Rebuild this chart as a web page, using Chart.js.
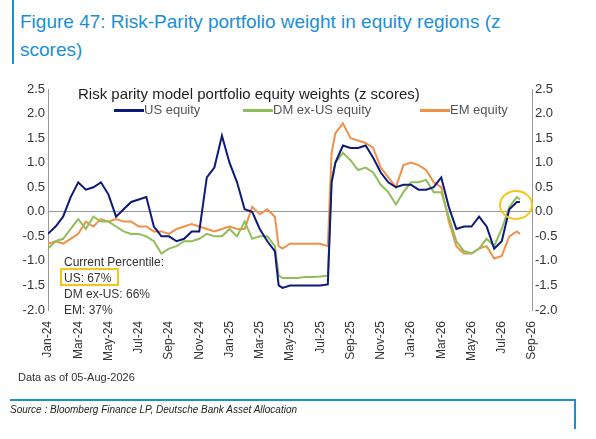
<!DOCTYPE html><html><head><meta charset="utf-8">
<script src="https://cdn.jsdelivr.net/npm/chart.js@4"></script>
<style>body{margin:0;width:596px;height:439px;position:relative;font-family:"Liberation Sans",Arial,sans-serif;background:#fff;overflow:hidden}
.a{position:absolute;white-space:nowrap}</style></head><body>
<div class="a" style="left:12px;top:0;width:2px;height:64px;background:#1a8fd6"></div>
<div class="a" style="left:20px;top:8px;font-size:19px;line-height:28px;color:#1a8fd6">Figure 47: Risk-Parity portfolio weight in equity regions (z<br>scores)</div>
<canvas id="c" width="596" height="439" style="position:absolute;left:0;top:0"></canvas>
<div class="a" style="left:78px;top:85px;font-size:15px;color:#222">Risk parity model portfolio equity weights (z scores)</div>
<div class="a" style="left:114px;top:102px;font-size:13px;color:#555"><span style="display:inline-block;width:30px;height:3px;background:#0d1a7a;vertical-align:middle"></span>US equity</div>
<div class="a" style="left:243px;top:102px;font-size:13px;color:#555"><span style="display:inline-block;width:30px;height:3px;background:#8fbe5a;vertical-align:middle"></span>DM ex-US equity</div>
<div class="a" style="left:420px;top:102px;font-size:13px;color:#555"><span style="display:inline-block;width:30px;height:3px;background:#f0914a;vertical-align:middle"></span>EM equity</div>
<div class="a" style="left:64px;top:254px;font-size:12px;line-height:16px;color:#333">Current Percentile:<br>US: 67%<br>DM ex-US: 66%<br>EM: 37%</div>
<div class="a" style="left:60px;top:268px;width:55px;height:14px;border:2px solid #f5c518"></div>
<div class="a" style="left:499px;top:190px;width:30px;height:26px;border:2px solid #f5c518;border-radius:50%"></div>
<div class="a" style="left:18px;top:371px;font-size:11px;color:#333">Data as of 05-Aug-2026</div>
<div class="a" style="left:10px;top:399px;width:566px;height:2px;background:#1a8fd6"></div>
<div class="a" style="left:574px;top:399px;width:2px;height:30px;background:#1a8fd6"></div>
<div class="a" style="left:10px;top:404px;font-size:10px;font-style:italic;color:#222">Source : Bloomberg Finance LP, Deutsche Bank Asset Allocation</div>
<script>
const tickLabels=["Jan-24","Mar-24","May-24","Jul-24","Sep-24","Nov-24","Jan-25","Mar-25","May-25","Jul-25","Sep-25","Nov-25","Jan-26","Mar-26","May-26","Jul-26","Sep-26"];
const months=[0,0.5,1,1.5,2,2.5,3,3.5,4,4.5,5,5.5,6,6.5,7,7.5,8,8.5,9,9.5,10,10.5,11,11.5,12,12.5,13,13.5,14,14.5,15,15.25,15.5,16,16.5,17,17.5,18,18.5,18.75,19,19.5,20,20.5,21,21.5,22,22.5,23,23.5,24,24.5,25,25.5,26,26.5,27,27.5,28,28.5,29,29.5,30,30.5,31,31.2];
const us=[-0.45,-0.3,-0.1,0.3,0.6,0.45,0.5,0.6,0.35,-0.1,0.05,0.2,0.25,0.3,-0.3,-0.5,-0.5,-0.6,-0.55,-0.4,-0.4,0.7,0.9,1.55,1.0,0.6,0.05,0.0,-0.35,-0.6,-0.8,-1.5,-1.55,-1.5,-1.5,-1.5,-1.5,-1.5,-1.48,0.6,1.0,1.35,1.3,1.3,1.35,1.1,0.8,0.6,0.5,0.55,0.55,0.45,0.45,0.5,0.7,0.1,-0.35,-0.3,-0.3,-0.1,-0.3,-0.75,-0.6,0.05,0.2,0.2];
const dm=[-0.75,-0.6,-0.55,-0.35,-0.15,-0.35,-0.1,-0.2,-0.2,-0.3,-0.4,-0.45,-0.45,-0.5,-0.6,-0.85,-0.75,-0.7,-0.6,-0.6,-0.55,-0.45,-0.5,-0.5,-0.35,-0.5,-0.2,-0.55,-0.5,-0.5,-0.7,-1.3,-1.35,-1.35,-1.35,-1.33,-1.33,-1.32,-1.3,0.6,1.0,1.2,1.05,0.85,0.9,0.8,0.55,0.4,0.15,0.4,0.6,0.6,0.65,0.4,0.4,-0.1,-0.6,-0.8,-0.85,-0.75,-0.55,-0.7,-0.35,0.1,0.3,0.25];
const em=[-0.65,-0.6,-0.65,-0.55,-0.45,-0.2,-0.3,-0.15,-0.2,-0.15,-0.2,-0.2,-0.3,-0.3,-0.4,-0.4,-0.45,-0.35,-0.3,-0.25,-0.3,-0.35,-0.4,-0.35,-0.3,-0.35,-0.35,0.1,-0.05,0.05,-0.1,-0.7,-0.75,-0.65,-0.65,-0.65,-0.65,-0.65,-0.7,1.2,1.6,1.8,1.5,1.45,1.4,1.3,0.9,0.7,0.5,0.95,1.0,0.95,0.85,0.6,0.5,-0.2,-0.7,-0.85,-0.85,-0.75,-0.7,-0.95,-0.9,-0.5,-0.4,-0.45];
const pts=a=>a.map((v,i)=>({x:months[i],y:v}));
const ds=(d,c)=>({data:pts(d),borderColor:c,borderWidth:2,pointRadius:0,tension:0});
const yax=(pos,w)=>({type:'linear',position:pos,min:-2,max:2.5,
 ticks:{stepSize:0.5,color:'#333',font:{size:13,family:'Liberation Sans'},callback:v=>v.toFixed(1)},
 grid:{display:pos==='left',drawTicks:false,color:c=>c.tick.value===0?'#999':'transparent'},
 border:{color:'#999'},afterFit:s=>{s.width=w}});
new Chart(document.getElementById('c'),{type:'line',
 data:{datasets:[ds(us,'#0d1a7a'),ds(dm,'#8fbe5a'),ds(em,'#f0914a')]},
 options:{responsive:false,animation:false,layout:{padding:{top:89,left:0,right:0,bottom:0}},
  plugins:{legend:{display:false},tooltip:{enabled:false}},
  scales:{x:{type:'linear',min:0,max:32,
    ticks:{stepSize:2,autoSkip:false,minRotation:90,maxRotation:90,color:'#333',font:{size:12,family:'Liberation Sans'},callback:v=>tickLabels[v/2]},
    grid:{display:false},border:{display:false},afterFit:s=>{s.height=129}},
   y:yax('left',48),y2:yax('right',64)}}});
</script></body></html>
